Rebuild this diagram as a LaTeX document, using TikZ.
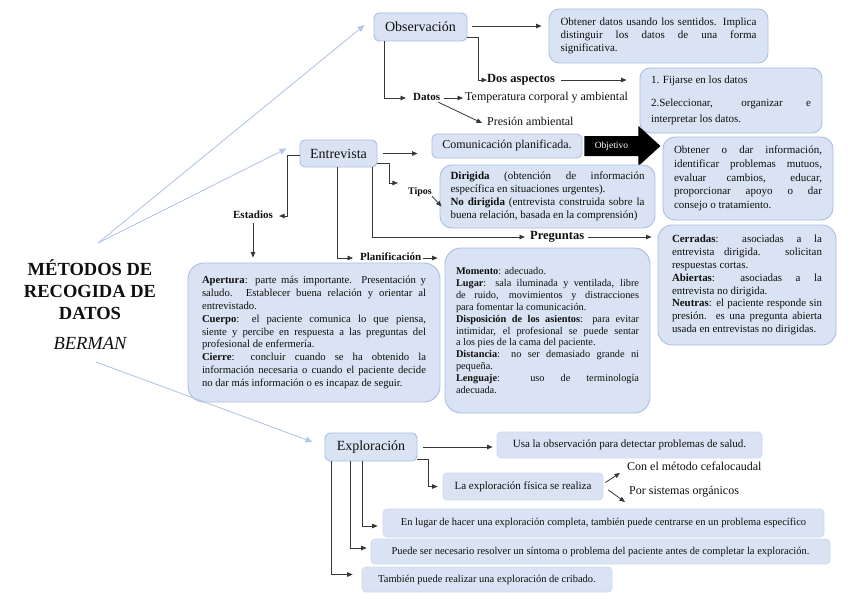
\documentclass[tikz,border=0pt]{standalone}
\usepackage{fontspec}
\setmainfont{Liberation Serif}
\usetikzlibrary{arrows.meta}
\hyphenpenalty=10000
\exhyphenpenalty=10000
\tolerance=10000
\definecolor{bfill}{RGB}{218,227,243}
\definecolor{bline}{RGB}{170,190,228}
\definecolor{sline}{RGB}{205,216,238}
\definecolor{bluecon}{RGB}{180,199,231}
\definecolor{darkcon}{RGB}{55,55,55}
\definecolor{txt}{RGB}{15,15,15}
\begin{document}
\begin{tikzpicture}[x=1pt,y=-1pt,
  every node/.style={text=txt},
  hdr/.style={draw=bline, fill=bfill, line width=0.9pt, rounded corners=5pt, inner sep=0pt, font=\fontsize{14}{16}\selectfont},
  para/.style={draw=bline, fill=bfill, line width=0.9pt, rounded corners=12pt, inner sep=0pt, align=justify},
  sbox/.style={draw=sline, fill=bfill, line width=0.7pt, rounded corners=4pt, inner sep=0pt, font=\fontsize{10.5}{12}\selectfont},
  lbl/.style={inner sep=0pt, font=\bfseries\fontsize{11}{13}\selectfont, text height=7.5pt, text depth=2.5pt},
  ftx/.style={inner sep=0pt, font=\fontsize{12}{14}\selectfont, text height=8pt, text depth=2.5pt},
  arr/.style={draw=darkcon, line width=0.8pt, -{Triangle[length=5.5pt,width=4.5pt]}},
  barr/.style={draw=bluecon, line width=0.9pt, -{Triangle[length=7pt,width=6pt]}},
]
\useasboundingbox (0,0) rectangle (848,599);

% title
\node[align=center, font=\bfseries\fontsize{18.5}{22}\selectfont, inner sep=0pt] (title) at (90,290) {MÉTODOS DE\\RECOGIDA DE\\DATOS};
\node[font=\itshape\fontsize{18.5}{22}\selectfont, inner sep=0pt] (berman) at (90,343) {BERMAN};
\coordinate (hubA) at (98,243);
\coordinate (hubB) at (96,362);

% headers
\node[hdr, minimum width=93pt, minimum height=28pt] (obs) at (420.5,27) {Observación};
\node[hdr, minimum width=77pt, minimum height=27pt] (ent) at (338.5,153.5) {Entrevista};
\node[hdr, minimum width=92pt, minimum height=28pt] (exp) at (371,447) {Exploración};

% Observacion branch
\node[para, rounded corners=10pt, text width=196pt, minimum width=219pt, minimum height=54pt, font=\fontsize{11}{13.3}\selectfont] (obt) at (658.5,36) {Obtener datos usando los sentidos. Implica\linebreak distinguir los datos de una forma\linebreak significativa.};
\node[lbl, font=\bfseries\fontsize{12.5}{14}\selectfont, anchor=west] (dos) at (487,80) {Dos aspectos};
\node[para, rounded corners=10pt, text width=160pt, minimum width=182pt, minimum height=65pt, font=\fontsize{11}{16.5}\selectfont] (fij) at (731,100.5) {1. Fijarse en los datos\par\vspace{6pt}2.Seleccionar, organizar e\linebreak interpretar los datos.};
\node[lbl, anchor=west] (datos) at (413,98) {Datos};
\node[ftx, anchor=west] (temp) at (465,98) {Temperatura corporal y ambiental};
\node[ftx, anchor=west] (pres) at (487,123) {Presión ambiental};

% Entrevista branch
\node[hdr, font=\fontsize{12}{13}\selectfont, minimum width=150pt, minimum height=24pt] (com) at (507,146) {Comunicación planificada.};
\fill[black] ([xshift=2pt,yshift=10pt]com.east) -- ++(54,0) -- ++(0,-10) -- ++(22,20) -- ++(-22,20) -- ++(0,-10) -- ++(-54,0) -- cycle;
\node[text=white, font=\fontsize{9.5}{11}\selectfont, inner sep=0pt] (objtxt) at ([xshift=29pt]com.east) {Objetivo};
\node[para, rounded corners=12pt, text width=148pt, minimum width=170pt, minimum height=83pt, font=\fontsize{11}{13.7}\selectfont] (obo) at (748,178.5) {Obtener o dar información,\linebreak identificar problemas mutuos,\linebreak evaluar cambios, educar,\linebreak proporcionar apoyo o dar\linebreak consejo o tratamiento.};
\node[para, rounded corners=12pt, text width=194pt, minimum width=215pt, minimum height=63pt, font=\fontsize{11}{13}\selectfont] (dir) at (547.5,196.5) {\textbf{Dirigida} (obtención de información\linebreak específica en situaciones urgentes).\par \textbf{No dirigida} (entrevista construida sobre la\linebreak buena relación, basada en la comprensión)};
\node[lbl, font=\bfseries\fontsize{10}{12}\selectfont] (tipos) at (420,192) {Tipos};
\node[lbl] (est) at (253,216) {Estadios};
\node[lbl, anchor=west] (plan) at (360,258) {Planificación};
\node[lbl, font=\bfseries\fontsize{12.5}{14}\selectfont, anchor=west] (preg) at (530,237) {Preguntas};
\node[para, rounded corners=14pt, text width=150pt, minimum width=178pt, minimum height=120pt, font=\fontsize{10.9}{12.8}\selectfont] (cer) at (747,285) {\textbf{Cerradas}: asociadas a la\linebreak entrevista dirigida. solicitan\linebreak respuestas cortas.\par \textbf{Abiertas}: asociadas a la\linebreak entrevista no dirigida.\par \textbf{Neutras}: el paciente responde sin\linebreak presión. es una pregunta abierta\linebreak usada en entrevistas no dirigidas.};
\node[para, rounded corners=16pt, text width=183pt, minimum width=205pt, minimum height=165pt, font=\fontsize{10.3}{11.9}\selectfont] (mom) at (547.5,330.5) {\textbf{Momento}: adecuado.\par \textbf{Lugar}: sala iluminada y ventilada, libre\linebreak de ruido, movimientos y distracciones\linebreak para fomentar la comunicación.\par \textbf{Disposición de los asientos}: para evitar\linebreak intimidar, el profesional se puede sentar\linebreak a los pies de la cama del paciente.\par \textbf{Distancia}: no ser demasiado grande ni\linebreak pequeña.\par \textbf{Lenguaje}: uso de terminología\linebreak adecuada.};
\node[para, rounded corners=16pt, text width=224pt, minimum width=252pt, minimum height=139pt, font=\fontsize{10.7}{12.8}\selectfont] (ap) at (314,332.5) {\textbf{Apertura}: parte más importante. Presentación y\linebreak saludo. Establecer buena relación y orientar al\linebreak entrevistado.\par \textbf{Cuerpo}: el paciente comunica lo que piensa,\linebreak siente y percibe en respuesta a las preguntas del\linebreak profesional de enfermería.\par \textbf{Cierre}: concluir cuando se ha obtenido la\linebreak información necesaria o cuando el paciente decide\linebreak no dar más información o es incapaz de seguir.};

% Exploracion branch
\node[sbox, font=\fontsize{11}{13}\selectfont, minimum width=265pt, minimum height=26pt] (usa) at (629.5,445) {Usa la observación para detectar problemas de salud.};
\node[sbox, font=\fontsize{11}{13}\selectfont, minimum width=160pt, minimum height=27pt] (la) at (523,486.5) {La exploración física se realiza};
\node[ftx, anchor=west] (con) at (627,468) {Con el método cefalocaudal};
\node[ftx, anchor=west] (por) at (629,492) {Por sistemas orgánicos};
\node[sbox, minimum width=441pt, minimum height=28pt] (enl) at (603.5,523) {En lugar de hacer una exploración completa, también puede centrarse en un problema específico};
\node[sbox, minimum width=459pt, minimum height=25pt] (pue) at (600.5,551.5) {Puede ser necesario resolver un síntoma o problema del paciente antes de completar la exploración.};
\node[sbox, minimum width=250pt, minimum height=25pt] (tam) at (487,579.5) {También puede realizar una exploración de cribado.};

% blue connectors
\draw[barr] (hubA) -- ([xshift=-9pt,yshift=2pt]obs.west);
\draw[barr] (hubA) -- ([xshift=-13pt,yshift=5pt]ent.west);
\draw[barr] (hubB) -- ([xshift=-12pt,yshift=5pt]exp.west);

% Observacion connectors
\draw[arr] ([xshift=5pt,yshift=1pt]obs.east) -- ([xshift=-7pt,yshift=1pt]obs.east -| obt.west);
\draw[arr] ([yshift=4pt]obs.south east) -- ++(11,0) |- (dos.west);
\draw[arr] ([xshift=6pt]dos.east) -- ([xshift=-13pt]dos.east -| fij.west);
\draw[arr] ([xshift=11pt]obs.south west) |- ([xshift=-7pt]datos.west);
\draw[arr] ([xshift=4pt]datos.east) -- ([xshift=-2pt]temp.west);
\draw[arr] ([xshift=-2pt,yshift=1pt]datos.south east) -- ([xshift=-5pt]pres.west);

% Entrevista connectors
\draw[arr] ([xshift=6pt]ent.east) -- ([xshift=-14pt]ent.east -| com.west);
\draw[arr] ([yshift=4pt]ent.south east) -- ++(12,0) |- ([xshift=-10pt,yshift=9pt]tipos.west);
\draw[arr] ([yshift=1pt]tipos.south east) -- ([xshift=2pt,yshift=-10pt]dir.west);
\draw[arr] ([yshift=-1.5pt]ent.west) -- ++(-12,0) |- ([xshift=6pt]est.east);
\draw[arr] ([yshift=-2pt]est.south) -- ([yshift=5pt]est.south |- ap.north);
\draw[arr] ([xshift=-1.5pt]ent.south) |- ([xshift=-7pt]plan.west);
\draw[arr] ([xshift=1pt]plan.east) -- ([xshift=-7pt]plan.east -| mom.west);
\draw[arr] ([xshift=-5pt]ent.south east) |- ([xshift=-5pt]preg.west);
\draw[arr] ([xshift=4pt]preg.east) -- ([xshift=-6pt]preg.east -| cer.west);

% Exploracion connectors
\draw[arr] ([xshift=6pt]exp.east) -- ([xshift=-4pt]exp.east -| usa.west);
\draw[arr] ([yshift=2pt]exp.south east) -- ++(11,0) |- ([xshift=-5pt]la.west);
\draw[arr] ([xshift=2pt,yshift=4pt]la.east) -- ([xshift=-7pt,yshift=-5pt]con.west);
\draw[arr] ([xshift=5pt,yshift=-3.5pt]la.east) -- ([xshift=-4pt,yshift=-10pt]por.west);
\draw[arr] ([xshift=38pt]exp.south west) |- ([xshift=-5pt,yshift=-3pt]enl.west);
\draw[arr] ([xshift=26pt]exp.south west) |- ([xshift=-4pt,yshift=3.5pt]pue.west);
\draw[arr] ([xshift=7pt]exp.south west) |- ([xshift=-9pt,yshift=5pt]tam.west);
\end{tikzpicture}
\end{document}
